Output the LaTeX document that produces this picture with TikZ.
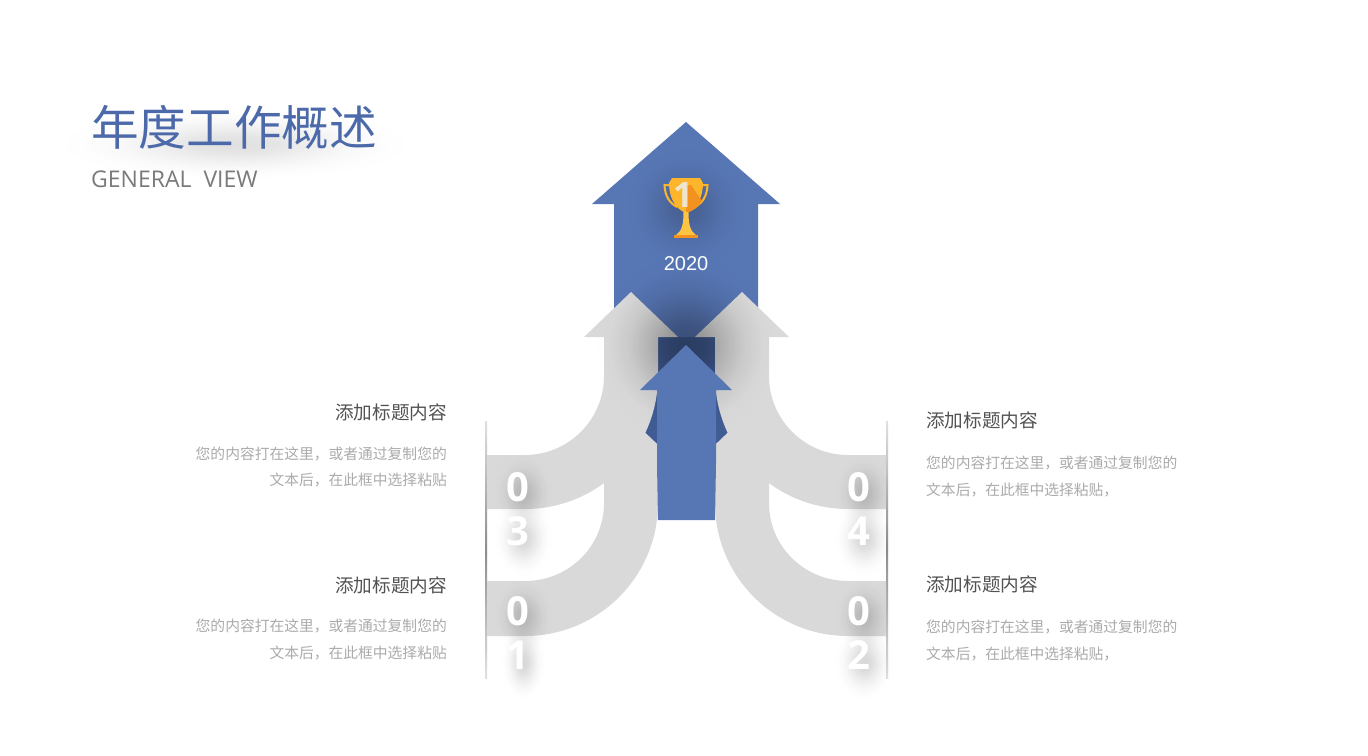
\documentclass[tikz,border=0pt]{standalone}
\usepackage{fontspec}
\usetikzlibrary{fadings}
\setmainfont{Open Sans}
\newfontfamily\cjkfont{Noto Sans CJK SC}
\newfontfamily\yearfont{Liberation Sans}
\newcommand{\pxsize}[1]{\fontsize{#1}{#1}\selectfont}
\definecolor{arrowblue}{HTML}{5776B4}
\definecolor{darkblue}{HTML}{415C94}
\definecolor{arrowgray}{HTML}{D9D9D9}
\definecolor{titleblue}{HTML}{4C6AA9}
\definecolor{cupyellow}{HTML}{FDB52C}
\definecolor{cuporange}{HTML}{F3921F}
\definecolor{stemyellow}{HTML}{FCC443}
\definecolor{cupnumber}{HTML}{EFE5CC}
\pgfdeclareradialshading{softshade}{\pgfpointorigin}{color(0bp)=(black!0); color(5bp)=(black!15); color(10bp)=(black!50); color(15bp)=(black!80); color(20bp)=(black!97); color(24bp)=(black); color(50bp)=(black)}
\pgfdeclarefading{softglow}{\pgfuseshading{softshade}}
\tikzset{
  glow/.style={fill=black, path fading=softglow, fill opacity=#1},
  headtext/.style={inner sep=0, text=black!68, font=\cjkfont\pxsize{18.6}},
  bodytext/.style={inner sep=0, text=black!33, font=\cjkfont\pxsize{14.77}, align=#1},
  digit/.style={inner sep=0, text=white, align=center, font=\bfseries\fontsize{40}{44}\selectfont},
  sideline/.style={top color=black!12, bottom color=black!12, middle color=black!45}
}
\begin{document}
\begin{tikzpicture}[x=1pt,y=-1pt]
  \fill[white] (0,0) rectangle (1368,755);
  \useasboundingbox (0,0) rectangle (1368,755);

  % big arrow
  \fill[arrowblue] (686,122) -- (780,204) -- (758,204) -- (758,337) -- (614,337) -- (614,204) -- (592,204) -- cycle;
  \fill[darkblue] (614,337) rectangle (758,500);

  % side lines
  \shade[sideline] (485,421) rectangle (487,678);
  \shade[sideline] (886,421) rectangle (888,678);

  % gray arrows
  \fill[arrowgray] (631,292) -- (678,337) -- (658,337) -- (658,376) .. controls (658,449.5) and (598.5,509) .. (525,509) -- (487,509) -- (487,455) -- (525,455) .. controls (568.6,455) and (604,419.6) .. (604,376) -- (604,337) -- (584,337) -- cycle;
  \fill[arrowgray] (742,292) -- (695,337) -- (715,337) -- (715,376) .. controls (715,449.5) and (774.5,509) .. (848,509) -- (886,509) -- (886,455) -- (848,455) .. controls (804.4,455) and (769,419.6) .. (769,376) -- (769,337) -- (789,337) -- cycle;
  \fill[arrowgray] (631,419) -- (678,464) -- (658,464) -- (658,503) .. controls (658,576.5) and (598.5,636) .. (525,636) -- (487,636) -- (487,581) -- (525,581) .. controls (568.6,581) and (604,546.6) .. (604,503) -- (604,464) -- (584,464) -- cycle;
  \fill[arrowgray] (742,419) -- (695,464) -- (715,464) -- (715,503) .. controls (715,576.5) and (774.5,636) .. (848,636) -- (886,636) -- (886,581) -- (848,581) .. controls (804.4,581) and (769,546.6) .. (769,503) -- (769,464) -- (789,464) -- cycle;

  % shadow and small arrow
  \fill[glow=.34] (686,345) circle (95);
  \fill[arrowblue] (686,345) -- (732,390) -- (716,390) -- (716,464) -- (715,520) -- (658,520) -- (657,464) -- (657,390) -- (640,390) -- cycle;

  % trophy
  \fill[glow=.18] (686,208) circle (65);
  \draw[line width=2, draw=cupyellow] (671,185) -- (664.5,185) .. controls (665,197) and (670,203) .. (677,207);
  \draw[line width=2, draw=cupyellow] (701,185) -- (707.5,185) .. controls (707,197) and (702,203) .. (695,207);
  \fill[cupyellow] (672,178) -- (700,178) -- (703,183) .. controls (703,197) and (697,209) .. (686,213) .. controls (675,209) and (669,197) .. (669,183) -- cycle;
  \fill[cuporange] (691,185) -- (702,201) .. controls (699,207) and (693,211) .. (686,213) -- (686,185) -- cycle;
  \fill[stemyellow] (683.5,212) -- (688.5,212) .. controls (688.5,224) and (690,231) .. (696,235) -- (676,235) .. controls (682,231) and (683.5,224) .. (683.5,212) -- cycle;
  \fill[cuporange] (674,235) rectangle (698,238);
  \node[inner sep=0, text=cupnumber, font=\bfseries\pxsize{35}] (cupnum) at (683,195.5) {1};
  \node[inner sep=0, text=white, font=\yearfont\pxsize{20}] (year) at (686,264) {2020};

  % title
  \fill[glow=.12] (235,144) ellipse (195 and 40);
  \node[anchor=west, inner sep=0, text=titleblue, font=\cjkfont\pxsize{47.6}] (title) at (91,127) {年度工作概述};
  \node[anchor=west, inner sep=0, text=black!52, font=\pxsize{23}] (subtitle) at (91,179) {GENERAL\ \ VIEW};

  % digits
  \fill[glow=.16] (523,493) ellipse (32 and 42);
  \fill[glow=.16] (523,538) ellipse (32 and 42);
  \fill[glow=.16] (523,617) ellipse (32 and 42);
  \fill[glow=.16] (523,662) ellipse (24 and 42);
  \fill[glow=.16] (864,493) ellipse (32 and 42);
  \fill[glow=.16] (864,538) ellipse (32 and 42);
  \fill[glow=.16] (864,617) ellipse (32 and 42);
  \fill[glow=.16] (864,662) ellipse (32 and 42);
  \node[digit] (num3) at (518,509) {0\\3};
  \node[digit] (num1) at (518,633) {0\\1};
  \node[digit] (num4) at (859,509) {0\\4};
  \node[digit] (num2) at (859,633) {0\\2};

  % texts
  \node[headtext, anchor=east] (head3) at (447,412) {添加标题内容};
  \node[bodytext=right, anchor=east] (body3) at (447,467) {您的内容打在这里，或者通过复制您的\\[11.5pt]文本后，在此框中选择粘贴};
  \node[headtext, anchor=east] (head1) at (447,585) {添加标题内容};
  \node[bodytext=right, anchor=east] (body1) at (447,639.5) {您的内容打在这里，或者通过复制您的\\[11.5pt]文本后，在此框中选择粘贴};
  \node[headtext, anchor=west] (head4) at (926,420) {添加标题内容};
  \node[bodytext=left, anchor=west] (body4) at (926,476.5) {您的内容打在这里，或者通过复制您的\\[11.5pt]文本后，在此框中选择粘贴，};
  \node[headtext, anchor=west] (head2) at (926,584) {添加标题内容};
  \node[bodytext=left, anchor=west] (body2) at (926,640.5) {您的内容打在这里，或者通过复制您的\\[11.5pt]文本后，在此框中选择粘贴，};
\end{tikzpicture}
\end{document}
